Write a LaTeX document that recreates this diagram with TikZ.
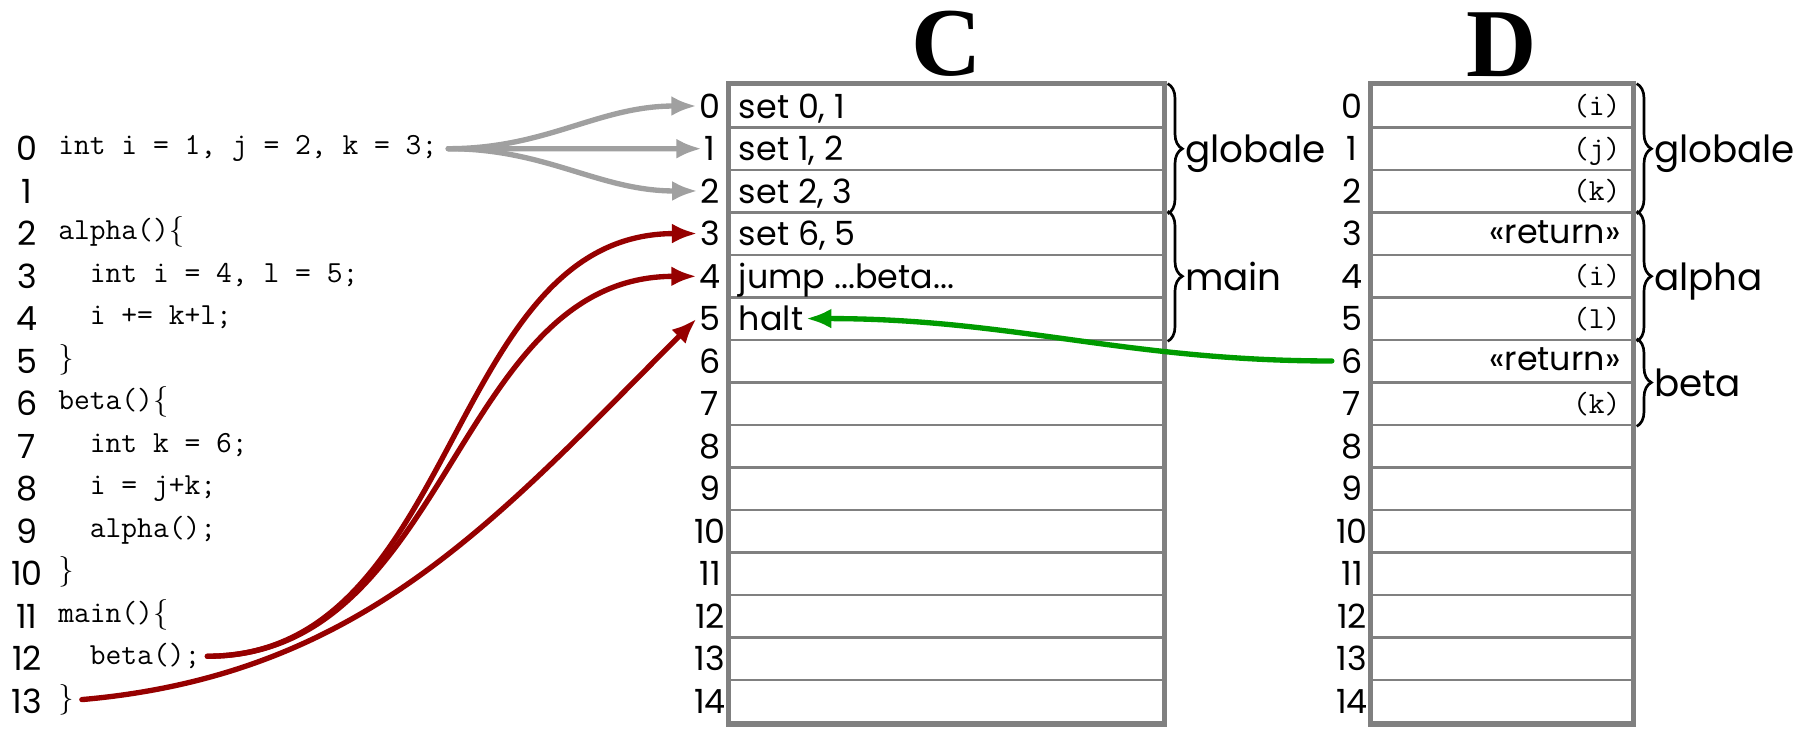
\documentclass[tikz,border=0pt]{standalone}
\usepackage{fontspec}
\usepackage{tikz}
\usetikzlibrary{arrows.meta,decorations.pathreplacing}
\newfontfamily\labelfont{Poppins}
\newfontfamily\titlefont{Liberation Serif}
\definecolor{cellgray}{RGB}{128,128,128}
\definecolor{fangray}{RGB}{160,160,160}
\definecolor{calldred}{RGB}{150,0,0}
\definecolor{haltgreen}{RGB}{0,155,0}
\newcommand{\codeopen}{{\rmfamily\{}}
\newcommand{\codeclose}{{\rmfamily\}}}

\begin{document}
\begin{tikzpicture}[x=0.75pt,y=0.75pt,yscale=-1,xscale=1,
  ccell/.style={draw=cellgray, line width=2pt, minimum width=324.75pt, minimum height=31.875pt, inner sep=0pt},
  dcell/.style={ccell, minimum width=195pt},
  memframe/.style={draw=cellgray, line width=4pt},
  rownum/.style={font=\labelfont\fontsize{25}{30}\selectfont, inner sep=2pt, anchor=base},
  srcline/.style={font=\ttfamily\fontsize{23}{28}\selectfont, inner sep=0pt, anchor=base west},
  ctext/.style={font=\labelfont\fontsize{25}{30}\selectfont, inner sep=2pt, anchor=base west},
  dtext/.style={font=\labelfont\fontsize{25}{30}\selectfont, inner sep=2pt, anchor=base east},
  dvar/.style={font=\ttfamily\fontsize{23}{27}\selectfont, inner sep=2pt, anchor=base east},
  memtitle/.style={font=\titlefont\bfseries\fontsize{73}{80}\selectfont, inner sep=0pt, anchor=base},
  grpbrace/.style={draw=black, line width=2pt, decorate, decoration={brace, amplitude=11pt}},
  grplabel/.style={midway, anchor=base west, inner sep=0pt, xshift=12pt, yshift=-10.5pt, font=\labelfont\fontsize{28}{34}\selectfont},
  fan/.style={draw=fangray, line width=4pt, line cap=round, -{Latex[length=19pt,width=15pt]}},
  call/.style={fan, draw=calldred},
  ret/.style={fan, draw=haltgreen}
]
\useasboundingbox (0,0) rectangle (1812,728);

%Shape: C and D cells
\foreach \i in {0,...,14} {
  \node[ccell] (c\i) at (946.5,{85+(\i+0.5)*42.5}) {};
  \node[dcell] (d\i) at (1502,{85+(\i+0.5)*42.5}) {};
  \node[rownum] (cn\i) at (710,{85+(\i+0.5)*42.5+12}) {\i};
  \node[rownum] (dn\i) at (1352,{85+(\i+0.5)*42.5+12}) {\i};
}
\draw[memframe] (c0.north west) rectangle (c14.south east);
\draw[memframe] (d0.north west) rectangle (d14.south east);

% Text Node
\node[memtitle] (ctitle) at (946.5,75) {C};
\node[memtitle] (dtitle) at (1502,76) {D};

% Text Node: code
\foreach \i/\src in {0/{int i = 1, j = 2, k = 3;}, 1/{}, 2/{alpha()\codeopen}, 3/{\ \ int i = 4, l = 5;},
    4/{\ \ i += k+l;}, 5/{\codeclose}, 6/{beta()\codeopen}, 7/{\ \ int k = 6;}, 8/{\ \ i = j+k;},
    9/{\ \ alpha();}, 10/{\codeclose}, 11/{main()\codeopen}, 12/{\ \ beta();}, 13/{\codeclose}} {
  \node[rownum] (ln\i) at (27,{85+(\i+1.5)*42.5+12}) {\i};
  \node[srcline] (code\i) at (58,{85+(\i+1.5)*42.5+6}) {\src};
}

% Text Node: C contents
\foreach \i/\txt in {0/{set 0, 1}, 1/{set 1, 2}, 2/{set 2, 3}, 3/{set 6, 5}, 4/{jump ...beta...}, 5/{halt}}
  \node[ctext] (ct\i) at ([xshift=5.5pt,yshift=9pt]c\i.west) {\txt};

% Text Node: D contents
\foreach \i/\sty/\txt in {0/dvar/{(i)}, 1/dvar/{(j)}, 2/dvar/{(k)}, 3/dtext/{«return»}, 4/dvar/{(i)},
    5/dvar/{(l)}, 6/dtext/{«return»}, 7/dvar/{(k)}}
  \node[\sty] (dt\i) at ([xshift=-7.5pt,yshift=7pt]d\i.east) {\txt};

%Braces
\draw[grpbrace] ([xshift=2.5pt]c0.north east) -- ([xshift=2.5pt]c2.south east) node[grplabel] (cglob) {globale};
\draw[grpbrace] ([xshift=2.5pt]c3.north east) -- ([xshift=2.5pt]c5.south east) node[grplabel] (cmain) {main};
\draw[grpbrace] ([xshift=2.5pt]d0.north east) -- ([xshift=2.5pt]d2.south east) node[grplabel] (dglob) {globale};
\draw[grpbrace] ([xshift=2.5pt]d3.north east) -- ([xshift=2.5pt]d5.south east) node[grplabel] (dalpha) {alpha};
\draw[grpbrace] ([xshift=2.5pt]d6.north east) -- ([xshift=2.5pt]d7.south east) node[grplabel] (dbeta) {beta};

%Arrows
\foreach \j in {0,1,2}
  \draw[fan] ([xshift=8pt]code0.east) to[out=0,in=180] (cn\j.west);
\draw[call] ([xshift=5pt]code12.east) to[out=0,in=180] (cn3.west);
\draw[call] ([xshift=5pt]code12.east) to[out=0,in=180] (cn4.west);
\draw[call] ([xshift=6pt]code13.east) to[out=-5,in=135] (cn5.west);
\draw[ret] ([xshift=-5pt]dn6.west) to[out=180,in=0] (ct5.east);

\end{tikzpicture}
\end{document}
